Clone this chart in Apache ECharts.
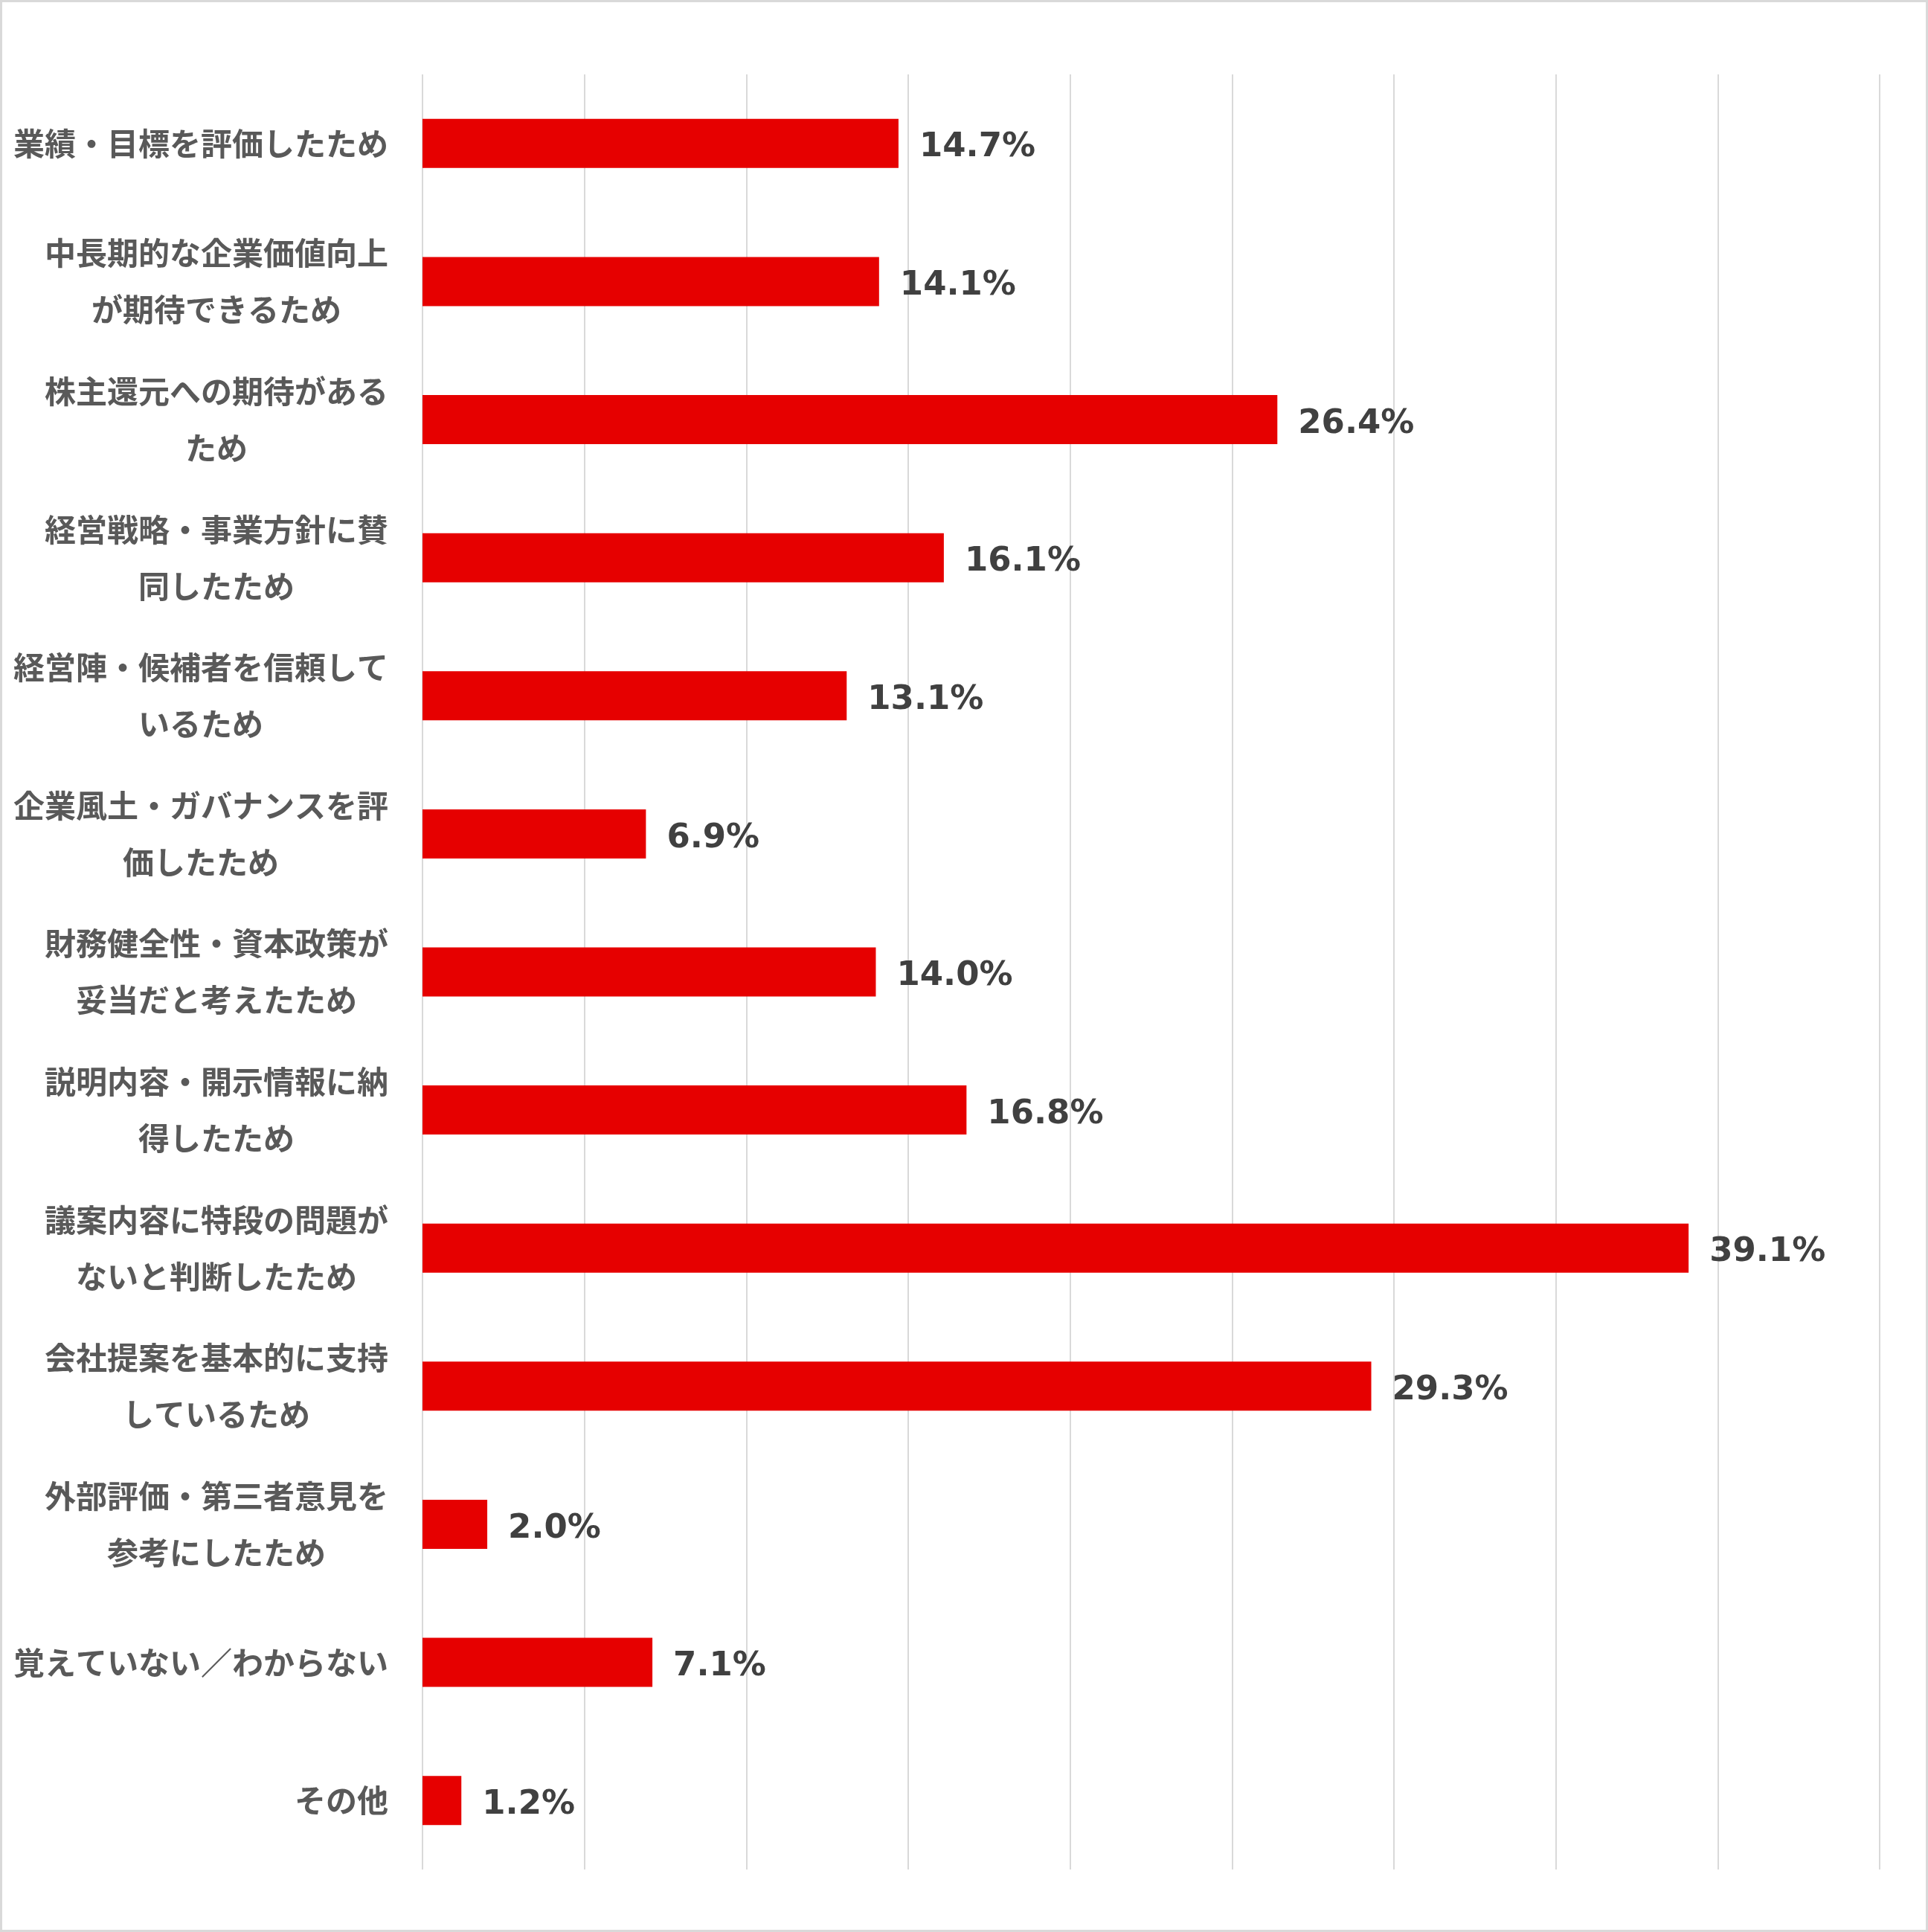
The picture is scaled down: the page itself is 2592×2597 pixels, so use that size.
<!DOCTYPE html>
<html>
<head>
<meta charset="utf-8">
<script src="https://cdn.jsdelivr.net/npm/echarts@6/dist/echarts.min.js"></script>
<style>
  html, body { margin: 0; padding: 0; background: #fff; }
  #chart { width: 2592px; height: 2597px; box-sizing: border-box; border: 3px solid #d9d9d9; }
</style>
</head>
<body>
<div id="chart"></div>
<script>
// 回答項目（上から順）
var categories = [
    '業績・目標を評価したため',
    '中長期的な企業価値向上\nが期待できるため',
    '株主還元への期待がある\nため',
    '経営戦略・事業方針に賛\n同したため',
    '経営陣・候補者を信頼して\nいるため',
    '企業風土・ガバナンスを評\n価したため',
    '財務健全性・資本政策が\n妥当だと考えたため',
    '説明内容・開示情報に納\n得したため',
    '議案内容に特段の問題が\nないと判断したため',
    '会社提案を基本的に支持\nしているため',
    '外部評価・第三者意見を\n参考にしたため',
    '覚えていない／わからない',
    'その他'
];
var values = [14.7, 14.1, 26.4, 16.1, 13.1, 6.9, 14.0, 16.8, 39.1, 29.3, 2.0, 7.1, 1.2];

var myChart = echarts.init(document.getElementById('chart'));

var option = {
    backgroundColor: '#ffffff',
    animation: false,
    grid: { left: 565, right: 62, top: 97, bottom: 81, containLabel: false },
    xAxis: {
        type: 'value',
        min: 0,
        max: 45,
        interval: 5,
        axisLabel: { show: false },
        axisLine: { show: false },
        axisTick: { show: false },
        splitLine: { lineStyle: { color: '#d9d9d9', width: 2 } }
    },
    yAxis: {
        type: 'category',
        inverse: true,
        data: categories,
        axisLine: { show: false },
        axisTick: { show: false },
        axisLabel: {
            margin: 46,
            align: 'right',
            formatter: function (v) {
                return v.split('\n').map(function (s) { return '{c|' + s + '}'; }).join('\n');
            },
            rich: {
                c: {
                    align: 'center',
                    fontFamily: 'Noto Sans CJK JP',
                    fontWeight: 'bold',
                    fontSize: 42,
                    lineHeight: 76,
                    color: '#595959'
                }
            }
        }
    },
    series: [{
        type: 'bar',
        data: values,
        barWidth: 66,
        itemStyle: { color: '#e60000' },
        label: {
            show: true,
            position: 'right',
            distance: 28,
            offset: [0, 6],
            formatter: function (p) { return p.value.toFixed(1) + '%'; },
            fontFamily: 'DejaVu Sans',
            fontWeight: 'bold',
            fontSize: 45,
            color: '#404040'
        }
    }]
};

myChart.setOption(option);
</script>
</body>
</html>
